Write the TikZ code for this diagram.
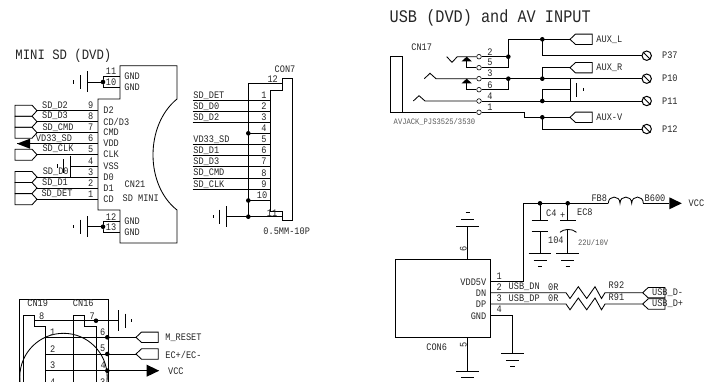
\documentclass[tikz,border=0pt]{standalone}
\usepackage{fontspec}
\setmainfont[FakeStretch=0.86]{Liberation Mono}
\newcount\tcnt
\tikzset{
  wire/.style={line width=.85pt,line join=miter},
  dotj/.style={circle,fill=black,inner sep=0pt,minimum size=4.6pt},
  txt/.style={inner sep=0pt,text=black!85,font=\fontsize{10}{11}\selectfont},
  small/.style={font=\fontsize{8.3}{9}\selectfont,text=black!65},
  pad/.style={circle,draw,line width=.6pt,inner sep=0pt,minimum size=4.6pt},
  term/.style={circle,draw,line width=1pt,inner sep=0pt,minimum size=9.4pt}
}
\newcommand\labC[4][]{\global\advance\tcnt by 1 \node[txt,name=t\the\tcnt,#1] at (#2,#3) {#4};}
\newcommand\labL[4][]{\global\advance\tcnt by 1 \node[txt,anchor=west,name=t\the\tcnt,#1] at (#2,#3) {#4};}
\newcommand\labR[4][]{\global\advance\tcnt by 1 \node[txt,anchor=east,name=t\the\tcnt,#1] at (#2,#3) {#4};}
\newcommand\junc[3]{\node[dotj] (#1) at (#2,#3) {};}
% tag pointing right: tip at x
\newcommand\tagR[3]{\coordinate (#1) at (#2,#3);
  \draw[wire] (#1) -- ++(-5,-5.5) -- ++(-17,0) -- ++(0,11) -- ++(17,0) -- cycle;}
% tag pointing left: tip at x, total width arg 4
\newcommand\tagL[4]{\coordinate (#1) at (#2,#3);
  \draw[wire] (#1) -- ++(5.5,-5.2) -- ++(#4-5.5,0) -- ++(0,10.4) -- ++(-#4+5.5,0) -- cycle;}
\newcommand\triR[3]{\coordinate (#1) at (#2,#3);
  \fill (#1) ++(0,-6) -- ++(12.5,6) -- ++(-12.5,6) -- cycle;}
% ground opening left
\newcommand\gndL[3]{\coordinate (#1) at (#2,#3);
  \draw[wire,line width=1pt] (#2,#3-10.5) -- (#2,#3+10.5);
  \draw[wire,line width=1pt] (#2-6.8,#3-7) -- (#2-6.8,#3+7);
  \draw[wire,line width=1pt] (#2-13.5,#3-1.7) -- (#2-13.5,#3+1.7);}
% ground opening right
\newcommand\gndRt[3]{\coordinate (#1) at (#2,#3);
  \draw[wire,line width=1pt] (#2,#3-10.5) -- (#2,#3+10.5);
  \draw[wire,line width=1pt] (#2+6.8,#3-7) -- (#2+6.8,#3+7);
  \draw[wire,line width=1pt] (#2+13.5,#3-1.7) -- (#2+13.5,#3+1.7);}
% ground opening down / up (arg 4 = +1 / -1)
\newcommand\gndV[4]{\coordinate (#1) at (#2,#3);
  \draw[wire] (#2-11.3,#3) -- (#2+11.3,#3);
  \draw[wire] (#2-6.5,#3+#4*6.7) -- (#2+6.5,#3+#4*6.7);
  \draw[wire] (#2-2.2,#3+#4*13.4) -- (#2+2.2,#3+#4*13.4);}
\newcommand\termP[4]{\node[term] (#1) at (#2,#3) {};
  \draw[wire] (#1.135) -- (#1.-45);
  \labL{661.7}{#3}{#4}}
\begin{document}
\begin{tikzpicture}[x=1pt,y=-1pt,wire]
\useasboundingbox (0,0) rectangle (708,382);
\begin{scope}
\clip (0,0) rectangle (708,382);
% ---------- titles
\labL[font=\fontsize{14.3}{15}\selectfont]{15}{56}{MINI SD (DVD)}
\labL[font=\fontsize{17.7}{18}\selectfont]{389.3}{18.3}{USB (DVD) and AV INPUT}

% ---------- SD MINI connector
\draw[wire] (120,65.7) -- (177,65.7) -- (177,99) .. controls (145,125) and (145,185) .. (177,210)
  -- (177,243) -- (120,243) -- (120,210) -- (98,210) -- (98,99) -- (120,99) -- cycle;
\foreach \n/\y in {9/110.7,8/121.7,7/132.7,6/143.7,5/154.7,3/177,2/188,1/199.3}{
  \draw[wire] (37,\y) -- (98,\y);
  \labC{90.7}{\y-5}{\n}
}
\draw[wire] (17,143.7) -- (37,143.7);
\foreach \n/\y in {d2/110.7,d3/121.7,cmd/132.7,clk/154.7,d0/177,d1/188,det/199.3}{
  \tagR{\n}{37}{\y}
}
\fill (30,138.7) -- (30,148.7) -- (17,143.7) -- cycle;
\labC{55}{105.7}{SD\_D2}
\labC{55}{116}{SD\_D3}
\labC{58}{127.3}{SD\_CMD}
\labC{54}{138.7}{VD33\_SD}
\labC{58}{149}{SD\_CLK}
\labC{55.7}{172}{SD\_D0}
\labC{55}{182.7}{SD\_D1}
\labC{57}{193.3}{SD\_DET}
\foreach \y/\s in {110/D2,121.5/{CD/D3},132.5/CMD,143.5/VDD,154.5/CLK,166/VSS,177/D0,188/D1,199.5/CD}{
  \labL{103}{\y}{\s}
}
\labC{90.7}{161}{4}
% VSS ground
\gndL{gv}{70.7}{166}
\draw[wire] (gv) -- (98,166);
% upper GND
\junc{ju}{103}{82}
\gndL{gu}{87}{82}
\draw[wire] (gu) -- (ju.center);
\draw[wire] (120,76.7) -- (103,76.7) -- (ju.center) -- (103,87.7) -- (120,87.7);
\labC{111}{71.5}{11}\labC{111}{82.7}{10}
\labL{124}{76.7}{GND}\labL{124}{87.7}{GND}
% lower GND
\junc{jl}{103}{226.7}
\gndL{gl}{87}{226.7}
\draw[wire] (gl) -- (jl.center);
\draw[wire] (120,221) -- (103,221) -- (jl.center) -- (103,232.7) -- (120,232.7);
\labC{111}{216.7}{12}\labC{111}{227.7}{13}
\labL{124}{221.7}{GND}\labL{124}{232.7}{GND}
\labC{135}{184}{CN21}
\labC{140.7}{198.7}{SD MINI}

% ---------- CON7
\draw[wire] (282.3,78.3) -- (292.7,78.3) -- (292.7,220.7) -- (282.3,220.7) -- (282.3,211.7)
  -- (270.7,211.7) -- (270.7,90) -- (282.3,90) -- cycle;
\foreach \n/\y/\s in {1/100.7/SD\_DET,2/111.3/SD\_D0,3/122.3/SD\_D2,5/144.7/VD33\_SD,6/155.7/SD\_D1,7/166.7/SD\_D3,8/178/SD\_CMD,9/189.3/SD\_CLK}{
  \draw[wire] (192.7,\y) -- (270.7,\y);
  \labC{264}{\y-5}{\n}
  \labL{193}{\y-5}{\s}
}
\junc{c4}{248.3}{133.3}\junc{c10}{248.3}{200.5}\junc{c11}{248.3}{216.7}
\draw[wire] (282.3,83.3) -- (248.3,83.3) -- (c11.center);
\draw[wire] (c4.center) -- (270.7,133.3);
\draw[wire] (c10.center) -- (270.7,200.5);
\draw[wire] (c11.center) -- (282.3,216.7);
\gndL{gc}{226.7}{216.7}
\draw[wire] (gc) -- (c11.center);
\labC{264}{128.3}{4}\labC{262}{195.5}{10}\labC{272}{213}{11}\labC{272.7}{79}{12}
\labC{285}{69.3}{CON7}
\labC{286.7}{231.7}{0.5MM-10P}

% ---------- AV jack
\draw[wire] (390.7,56.7) rectangle (402.3,112.3);
\labC{421.7}{47.7}{CN17}
\labL[small]{393.3}{121.7}{AVJACK\_PJS3525/3530}
\foreach \n/\y/\ly in {2/56.7/51.7,5/67.7/62.3,3/78.7/73.3,6/89.7/85,4/101/96,1/112.3/107.3}{
  \node[pad] (p\n) at (479,\y) {};
  \labC{490}{\ly}{\n}
}
% contact symbols
\coordinate (v1) at (446.7,56.7);
\draw[wire] (v1) -- (452,62.3) -- (457.3,56.7) -- (p2.west);
\coordinate (v2) at (424.3,78.7);
\draw[wire] (v2) -- (430,73.3) -- (436,78.7) -- (p3.west);
\coordinate (v3) at (413.3,101);
\draw[wire] (v3) -- (419,95.7) -- (425,101) -- (p4.west);
\coordinate (d1b) at (466.7,61);
\fill (466.7,56.7) -- (471.9,61.4) -- (461.5,61.4) -- cycle;
\draw[wire] (d1b) |- (p5.west);
\fill (466.7,78.7) -- (471.9,83.4) -- (461.5,83.4) -- cycle;
\coordinate (d2b) at (466.7,83);
\draw[wire] (d2b) |- (p6.west);
\draw[wire] (p1.west) -- (402.3,112.3);
% junctions
\junc{a1}{508.3}{56.7}\junc{a2}{542.3}{39.3}
\junc{a3}{508.3}{78.7}\junc{a4}{542.3}{78.7}
\junc{a5}{542.3}{101}\junc{a6}{542.3}{117.3}
\tagL{aL}{570}{39.3}{22.3}
\tagL{aR}{570}{67.7}{22.3}
\tagL{aV}{570}{117.3}{22.3}
\labL{596}{39.3}{AUX\_L}\labL{596}{67.7}{AUX\_R}\labL{596}{117.3}{AUX-V}
\termP{t37}{646.7}{55.7}{P37}
\termP{t10}{646.7}{78.7}{P10}
\termP{t11}{646.7}{101}{P11}
\termP{t12}{646.7}{129}{P12}
\draw[wire] (p2.east) -- (a1.center);
\draw[wire] (p5.east) -- (508.3,67.7);
\draw[wire] (508.3,67.7) -- (508.3,39.3) -- (aL);
\draw[wire] (a2.center) |- (t37.west);
\draw[wire] (p3.east) -- (t10.west);
\draw[wire] (p6.east) -- (508.3,89.7) -- (a3.center);
\draw[wire] (a4.center) |- (aR);
\draw[wire] (p4.east) -- (t11.west);
\draw[wire] (a5.center) -- (542.3,89.7) -- (570,89.7);
\draw[wire] (570,78.7) -- (570,101);
\draw[wire,line width=1pt] (576.7,83) -- (576.7,96.7);
\draw[wire,line width=1pt] (583.3,88) -- (583.3,91.5);
\draw[wire] (p1.east) -- (524.3,112.3) -- (524.3,117.3) -- (aV);
\draw[wire] (a6.center) |- (t12.west);

% ---------- CON6
\node[draw,wire,minimum width=94.3pt,minimum height=78pt,inner sep=0pt] (con6) at (442.85,298.3) {};
\labC{436.7}{347.3}{CON6}
\gndV{g6}{467.7}{226}{-1}
\draw[wire] (467.7,259.3) -- (g6);
\gndV{g5}{467.7}{371}{1}
\draw[wire] (467.7,337.3) -- (g5);
\labC[rotate=90]{463.3}{249.3}{6}
\labC[rotate=90]{463.3}{345}{5}
\labR{486.7}{282}{VDD5V}\labR{486.7}{293.3}{DN}\labR{486.7}{304.7}{DP}\labR{486.7}{316}{GND}
\labC{499.3}{276}{1}\labC{499.3}{286.7}{2}\labC{499.3}{298}{3}\labC{499.3}{309.3}{4}
\labL{508.3}{286.7}{USB\_DN}\labL{508.3}{298.7}{USB\_DP}
\labC{553.3}{287.3}{0R}\labC{553.3}{298}{0R}
\labL{608.3}{285.7}{R92}\labL{608.3}{297.3}{R91}
\junc{e1}{540}{203.3}\junc{e2}{567.7}{203.3}
\coordinate (fbL) at (608.3,203.3);
\coordinate (fbR) at (643.3,203.3);
\triR{vc}{669.3}{203.3}
\draw[wire] (490,281.3) -- (523.3,281.3) -- (523.3,203.3) -- (fbL);
\draw[wire] (fbL) .. controls (608.3,195) and (620,195) .. (620,203.3)
  .. controls (620,195) and (631.7,195) .. (631.7,203.3)
  .. controls (631.7,195) and (643.3,195) .. (fbR);
\draw[wire] (fbR) -- (vc);
\labC{599.3}{198.3}{FB8}\labC{655}{198.3}{B600}
\labL{688.3}{203.3}{VCC}
% C4
\draw[wire] (e1.center) -- (540,220.7);
\draw[wire] (531.7,220.7) -- (548.3,220.7);
\draw[wire] (531.7,231.7) -- (548.3,231.7);
\gndV{gc4}{540}{253.3}{1}
\draw[wire] (540,231.7) -- (gc4);
\labL{545.7}{213.3}{C4}\labL{547.7}{240}{104}
% EC8
\draw[wire] (e2.center) -- (567.7,220.7);
\draw[wire] (560,220.7) -- (576,220.7);
\draw[wire] (560,232.3) .. controls (563,229) and (572,228) .. (576.5,232.3);
\gndV{gec}{567.7}{253.3}{1}
\draw[wire] (567.7,229.3) -- (gec);
\labC{562.7}{216}{+}
\labL{576.7}{212.3}{EC8}
\labL[small]{577.7}{242.3}{22U/10V}
% USB lines
\tagL{ud}{642.7}{292.7}{22.3}
\tagL{up}{642.7}{304}{22.3}
\draw[wire] (490,292.7) -- (566,292.7) -- (570,298.5) -- (578.3,286.7) -- (586.7,298.5) -- (595,286.7) -- (601.5,298.5) -- (605,292.7) -- (ud);
\draw[wire] (490,304) -- (566,304) -- (570,309.8) -- (578.3,298) -- (586.7,309.8) -- (595,298) -- (601.5,309.8) -- (605,304) -- (up);
\labL{651.7}{292.7}{USB\_D-}\labL{651.7}{304}{USB\_D+}
\gndV{g4}{512.3}{353.3}{1}
\draw[wire] (490,315) -- (512.3,315) -- (g4);

% ---------- bottom-left connector
\draw[wire] (19.3,382) -- (19.3,299.3) -- (108.3,299.3) -- (108.3,382);
\draw[wire] (23.3,382) -- (23.3,315) -- (34.3,315) -- (34.3,326.7) -- (45.7,326.7) -- (45.7,382);
\draw[wire] (73.3,382) -- (73.3,315) -- (84.3,315) -- (84.3,326.7) -- (96,326.7) -- (96,382);
\draw[wire] (63.5,377) circle (43.7);
\labC{37.7}{303.3}{CN19}\labC{83.3}{303.3}{CN16}
\labC{41.7}{316}{8}\labC{92.3}{316}{7}
\labC{102.7}{332.3}{6}\labC{102.7}{348}{5}\labC{103.3}{365}{4}\labC{102.7}{382}{3}
\labC{52.7}{332}{1}\labC{52.7}{348.7}{2}\labC{52.7}{365}{3}\labC{52.7}{382}{4}
\junc{b7}{96}{320.7}
\gndRt{gb}{118.3}{320.7}
\draw[wire] (34.3,320.7) -- (gb);
\junc{b1}{107.3}{337.3}\junc{b2}{107.3}{354}\junc{b3}{107.3}{370.7}
\tagL{mr}{136}{337.3}{22.3}
\tagL{ec}{136}{354}{22.3}
\triR{bv}{146.7}{370.7}
\draw[wire] (45.7,337.3) -- (mr);
\draw[wire] (45.7,354) -- (ec);
\draw[wire] (45.7,370.7) -- (bv);
\labL{165}{337.7}{M\_RESET}\labL{165}{355}{EC+/EC-}\labL{167.7}{371}{VCC}
\end{scope}
\end{tikzpicture}
\end{document}
